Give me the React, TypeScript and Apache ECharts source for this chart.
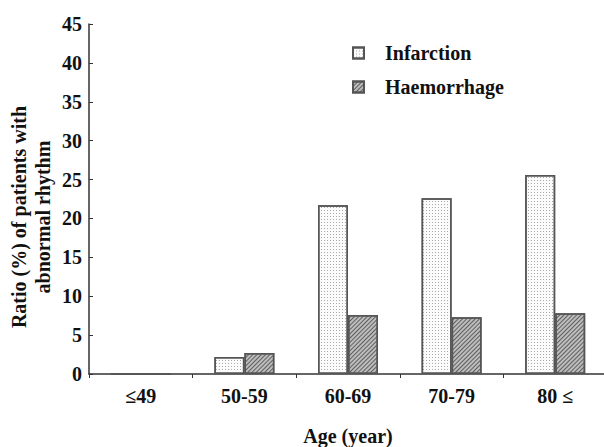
import React, { useEffect, useRef } from "react";
import * as echarts from "echarts";

const categories = ["≤49", "50-59", "60-69", "70-79", "80 ≤"];
const infarction = [0, 2.2, 21.7, 22.6, 25.6];
const haemorrhage = [0, 2.7, 7.6, 7.3, 7.8];
const seriesNames = ["Infarction", "Haemorrhage"];

const FONT = "Liberation Serif";

export default function App() {
  const ref = useRef<HTMLDivElement>(null);
  useEffect(() => {
    if (!ref.current) return;
    const chart = echarts.init(ref.current, undefined, { renderer: "svg" });
    const labelStyle = { color: "#111", fontFamily: FONT, fontWeight: "bold" as const, fontSize: 20 };
    chart.setOption({
      animation: false,
      backgroundColor: "#fff",
      textStyle: { fontFamily: FONT },
      grid: { left: 89, top: 24, width: 518, height: 350, containLabel: false, outerBoundsMode: "none" },
      legend: {
        orient: "vertical",
        left: 347,
        top: 38,
        icon: "rect",
        itemWidth: 11,
        itemHeight: 11,
        itemGap: 14,
        data: seriesNames,
        textStyle: { ...labelStyle, fontSize: 20, padding: [0, 0, 0, 16], lineHeight: 20 },
      },
      xAxis: {
        type: "category",
        data: categories,
        name: "Age (year)",
        nameLocation: "middle",
        nameGap: 52,
        nameMoveOverlap: false,
        nameTextStyle: { ...labelStyle, fontSize: 20 },
        axisLine: { lineStyle: { color: "#333", width: 1.5 } },
        axisTick: { show: true, inside: false, length: 4, lineStyle: { color: "#333" } },
        axisLabel: { ...labelStyle, margin: 12 },
      },
      yAxis: {
        type: "value",
        min: 0,
        max: 45,
        interval: 5,
        name: "Ratio (%) of patients with\nabnormal rhythm",
        nameLocation: "middle",
        nameRotate: 90,
        nameGap: 34,
        nameMoveOverlap: false,
        nameTextStyle: { ...labelStyle, fontSize: 20, lineHeight: 24, padding: [0, 36, 0, 0] },
        axisLine: { show: true, lineStyle: { color: "#333", width: 1.5 } },
        axisTick: { show: true, inside: true, length: 4, lineStyle: { color: "#333" } },
        axisLabel: { ...labelStyle, margin: 7 },
        splitLine: { show: false },
      },
      series: [
        {
          name: seriesNames[0],
          type: "bar",
          data: infarction,
          barWidth: 30,
          barGap: "0%",
          itemStyle: {
            color: "#fbfbfb",
            borderColor: "#555",
            borderWidth: 1.5,
            decal: {
              symbol: "rect",
              symbolSize: 1,
              dashArrayX: [1, 2],
              dashArrayY: [1, 2],
              color: "#a8a8a8",
              rotation: 0,
            },
          },
        },
        {
          name: seriesNames[1],
          type: "bar",
          data: haemorrhage,
          barWidth: 30,
          barGap: "0%",
          itemStyle: {
            color: "#bdbdbd",
            borderColor: "#555",
            borderWidth: 1.5,
            decal: {
              symbol: "rect",
              symbolSize: 1,
              dashArrayX: [1, 0],
              dashArrayY: [1, 2],
              color: "#5f5f5f",
              rotation: -Math.PI / 4,
            },
          },
        },
      ],
    });
    return () => chart.dispose();
  }, []);
  return <div ref={ref} style={{ width: 604, height: 447, position: "absolute", left: 0, top: 0 }} />;
}
